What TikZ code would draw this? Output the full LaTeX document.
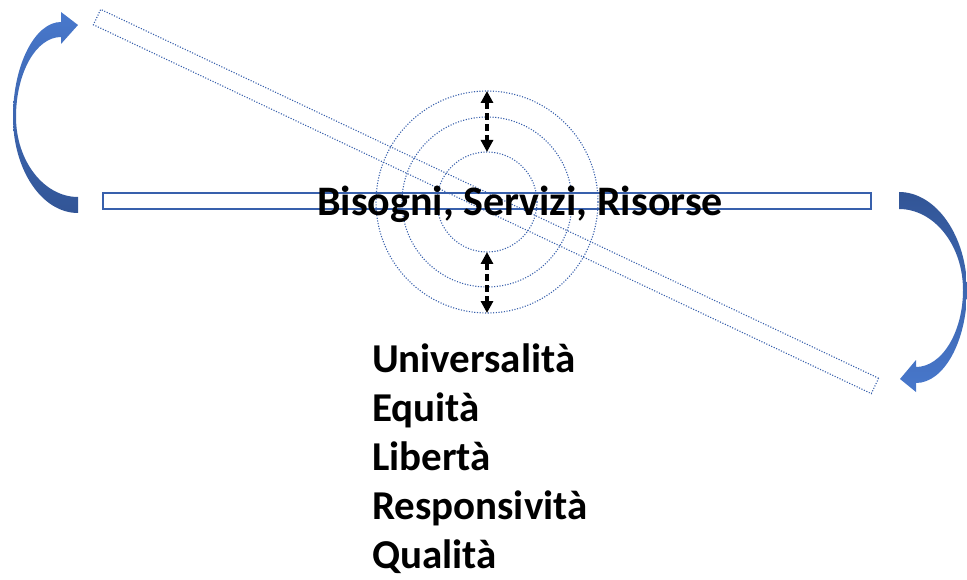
\documentclass[tikz,border=0pt]{standalone}
\usepackage{fontspec}
\setmainfont{Carlito}
\usetikzlibrary{arrows.meta}
\definecolor{ringblue}{RGB}{56,96,172}
\definecolor{arrowlight}{RGB}{72,120,204}
\definecolor{arrowdark}{RGB}{50,85,150}

\begin{document}
\begin{tikzpicture}[
    x=1pt, y=-1pt,
    every node/.style={inner sep=0pt, outer sep=0pt},
    >={Triangle[length=12pt,width=12pt]},
    ring/.style={circle, draw=ringblue, dash pattern=on 1.1pt off 1.6pt, line width=1.1pt},
    bar/.style={draw=ringblue, line width=1.3pt},
    gap/.style={<->, line width=3.2pt, dash pattern=on 7pt off 4pt},
    title/.style={font=\bfseries\fontsize{42}{50}\selectfont},
    principle/.style={font=\bfseries\fontsize{41}{49}\selectfont, anchor=base west}
]
    \useasboundingbox (0,0) rectangle (967,580);

    % barre
    \node[bar, minimum width=768pt, minimum height=16pt] (level) at (487,201) {};
    \node[bar, line width=1.1pt, dash pattern=on 1.1pt off 1.6pt, minimum width=861pt,
          minimum height=17pt, rotate=-25.37] (tilt) at (486,201.5) {};

    % cerchi
    \node[ring, minimum size=222pt] (outer) at (487,202) {};
    \node[ring, minimum size=170pt] (middle) at (487,202) {};
    \node[ring, minimum size=100pt] (inner) at (487,202) {};

    % frecce tratteggiate
    \draw[gap] (outer.north) -- (inner.north);
    \draw[gap] (inner.south) -- (outer.south);

    % frecce curve
    \shade[top color=arrowlight, bottom color=arrowdark]
        (78,213) .. controls (42,213) and (13,170) .. (13,117)
        .. controls (13,65) and (35,22) .. (61,22)
        -- (61,12) -- (78,25) -- (61,44) -- (61,37)
        .. controls (36,37) and (16,73) .. (16,117)
        .. controls (16,161) and (44,197) .. (78,197) -- cycle;
    \shade[top color=arrowdark, bottom color=arrowlight]
        (899,192) .. controls (936,192) and (967,236) .. (967,290)
        .. controls (967,341) and (944,383) .. (916,383)
        -- (916,392) -- (900,379) -- (916,360) -- (916,367)
        .. controls (942,367) and (963,332) .. (963,290)
        .. controls (963,245) and (934,209) .. (899,209) -- cycle;

    % testi
    \node[title, anchor=base] (needs) at (520,216) {Bisogni, Servizi, Risorse};
    \foreach \word [count=\i] in {Universalità, Equità, Libertà, Responsività, Qualità}
        \node[principle] (p\i) at (372,323+49*\i) {\word};
\end{tikzpicture}
\end{document}
